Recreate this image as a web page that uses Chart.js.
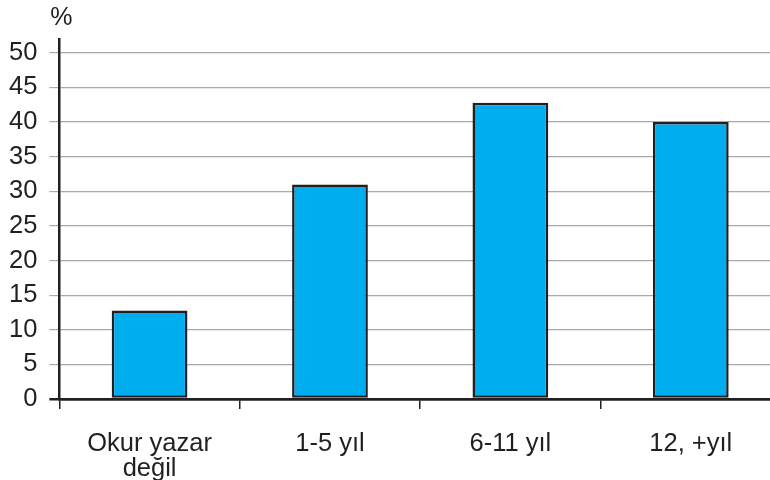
<!DOCTYPE html>
<html lang="tr">
<head>
    <meta charset="UTF-8">
    <title>Eğitim süresi</title>
    <script src="https://cdn.jsdelivr.net/npm/chart.js"></script>
    <style>
        html, body { margin: 0; padding: 0; background: #fff; overflow: hidden; }
        .wrap { width: 800px; height: 503px; }
    </style>
</head>
<body>
<div class="wrap">
    <canvas id="egitimChart"></canvas>
</div>

<script>
    // Data
    const categories = [['Okur yazar', 'değil'], '1-5 yıl', '6-11 yıl', '12, +yıl'];
    const percentValues = [12.8, 31, 42.8, 40];
    const yTickValues = [0, 5, 10, 15, 20, 25, 30, 35, 40, 45, 50];
    const yUnitLabel = '%';

    const ink = '#231f20';
    const gridGrey = '#a7a9ac';
    const fontFamily = "'Liberation Sans', Arial, Helvetica, sans-serif";
    const labelFont = { family: fontFamily, size: 25.5, lineHeight: 0.98 };

    // draws the "%" unit above the y axis
    const unitLabel = {
        id: 'unitLabel',
        afterDraw(chart) {
            const c = chart.ctx;
            c.save();
            c.fillStyle = ink;
            c.font = '25px ' + fontFamily;
            c.textAlign = 'center';
            c.textBaseline = 'middle';
            c.fillText(yUnitLabel, chart.chartArea.left + 2, 18);
            c.restore();
        }
    };

    const ctx = document.getElementById('egitimChart').getContext('2d');
    new Chart(ctx, {
        type: 'bar',
        data: {
            labels: categories,
            datasets: [{
                data: percentValues,
                backgroundColor: '#00aeef',
                borderColor: ink,
                borderWidth: 2.5,
                borderSkipped: false,
                barPercentage: 0.42,
                categoryPercentage: 1
            }]
        },
        options: {
            responsive: true,
            maintainAspectRatio: false,
            animation: false,
            // the wide first x label reserves room on the left, hence the negative value
            layout: { padding: { left: -3, right: 19, top: 39, bottom: 0 } },
            plugins: {
                legend: { display: false },
                tooltip: { enabled: false }
            },
            scales: {
                x: {
                    offset: true,
                    grid: {
                        offset: true,
                        drawOnChartArea: false,
                        color: ink,
                        lineWidth: 1.5,
                        tickLength: 10
                    },
                    border: { display: true, color: ink, width: 2.5 },
                    ticks: {
                        color: ink,
                        font: labelFont,
                        padding: 22,
                        maxRotation: 0,
                        autoSkip: false
                    }
                },
                y: {
                    min: 0,
                    max: 52,
                    afterBuildTicks(scale) {
                        scale.ticks = yTickValues.map(v => ({ value: v }));
                    },
                    grid: {
                        color: c => (c.tick && c.tick.value === 0) ? ink : gridGrey,
                        lineWidth: c => (c.tick && c.tick.value === 0) ? 2.5 : 1.2,
                        tickLength: 10
                    },
                    border: { display: true, color: ink, width: 2.5 },
                    ticks: {
                        color: ink,
                        font: labelFont,
                        padding: 12
                    }
                }
            }
        },
        plugins: [unitLabel]
    });
</script>
</body>
</html>
